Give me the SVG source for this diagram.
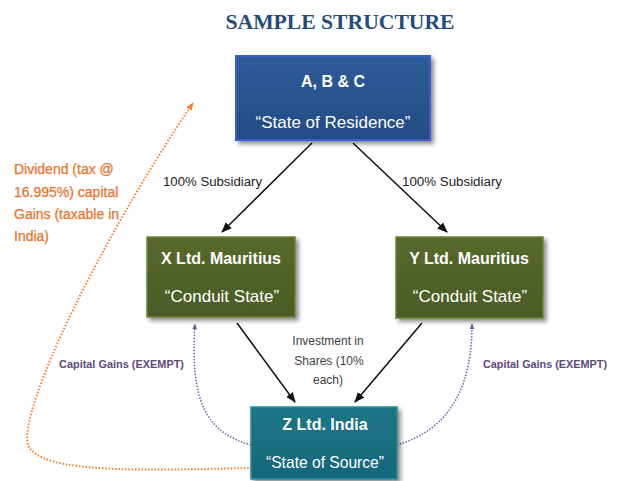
<svg xmlns="http://www.w3.org/2000/svg" width="620" height="481" viewBox="0 0 620 481">
<defs>
<style>
.title{font-family:"Liberation Serif",serif;font-weight:bold;font-size:21px;fill:#244A80}
.bt{font-family:"Liberation Sans",Arial,sans-serif;fill:#fff;text-anchor:middle}
.b1{font-weight:bold;font-size:16px}
.b2{font-size:17px}
.lbl{font-family:"Liberation Sans",Arial,sans-serif;font-size:12.5px;fill:#222}
.inv{font-family:"Liberation Sans",Arial,sans-serif;font-size:12px;fill:#404040;text-anchor:middle}
.org{font-family:"Liberation Sans",Arial,sans-serif;font-size:14px;fill:#E8742A;stroke:#E8742A;stroke-width:0.25}
.cg{font-family:"Liberation Sans",Arial,sans-serif;font-size:10.5px;font-weight:bold;fill:#60497A}
.conn{stroke:#111;stroke-width:1.5;fill:none;marker-end:url(#ah)}
.pur{stroke:#7B68A6;stroke-width:1.6;stroke-dasharray:1.5 1.5;fill:none;marker-end:url(#ap)}
.orng{stroke:#F08030;stroke-width:2;stroke-dasharray:1.5 1.8;fill:none;marker-end:url(#ao)}
</style>
<filter id="sh" x="-10%" y="-10%" width="125%" height="130%">
<feDropShadow dx="3" dy="3" stdDeviation="2" flood-color="#000" flood-opacity="0.45"/>
</filter>
<linearGradient id="gb" x1="0" y1="0" x2="0" y2="1"><stop offset="0" stop-color="#2F5C98"/><stop offset="1" stop-color="#244C84"/></linearGradient>
<linearGradient id="gg" x1="0" y1="0" x2="0" y2="1"><stop offset="0" stop-color="#56692C"/><stop offset="1" stop-color="#4A5C24"/></linearGradient>
<linearGradient id="gt" x1="0" y1="0" x2="0" y2="1"><stop offset="0" stop-color="#1F7585"/><stop offset="1" stop-color="#17677A"/></linearGradient>
<marker id="ah" viewBox="0 0 10 10" refX="9" refY="5" markerWidth="7" markerHeight="7" orient="auto"><path d="M0,1 L10,5 L0,9 Z" fill="#111"/></marker>
<marker id="ap" viewBox="0 0 10 10" refX="9" refY="5" markerWidth="6" markerHeight="6" orient="auto" markerUnits="userSpaceOnUse"><path d="M0,1 L10,5 L0,9 Z" fill="#6A5A9A"/></marker>
<marker id="ao" viewBox="0 0 10 10" refX="9" refY="5" markerWidth="8" markerHeight="8" orient="auto" markerUnits="userSpaceOnUse"><path d="M0,1 L10,5 L0,9 Z" fill="#F08030"/></marker>
</defs>
<rect width="620" height="481" fill="#fff"/>
<text class="title" x="340" y="29" text-anchor="middle" textLength="229" lengthAdjust="spacingAndGlyphs">SAMPLE STRUCTURE</text>

<g id="connectors">
<line class="conn" x1="312" y1="143" x2="222" y2="232"/>
<line class="conn" x1="353" y1="143" x2="447" y2="232"/>
<line class="conn" x1="237" y1="323" x2="295" y2="402"/>
<line class="conn" x1="422" y1="323" x2="355" y2="402"/>
<path class="pur" d="M251 445 C205 432 190 400 195 324"/>
<path class="pur" d="M397 445 C440 432 472 400 472 324"/>
<path class="orng" d="M252 468 C150 470 40 475 28 445 C18 410 100 240 193 103"/>
</g>

<g id="labels">
<text class="lbl" x="163" y="186" textLength="99" lengthAdjust="spacingAndGlyphs">100% Subsidiary</text>
<text class="lbl" x="402" y="186" textLength="100" lengthAdjust="spacingAndGlyphs">100% Subsidiary</text>
<text class="inv" x="328" y="345">Investment in</text>
<text class="inv" x="329" y="365">Shares (10%</text>
<text class="inv" x="328" y="384">each)</text>
<text class="org" x="14" y="174">Dividend (tax @</text>
<text class="org" x="14" y="197">16.995%) capital</text>
<text class="org" x="14" y="219">Gains (taxable in</text>
<text class="org" x="14" y="241">India)</text>
<text class="cg" x="59" y="368" textLength="125" lengthAdjust="spacingAndGlyphs">Capital Gains (EXEMPT)</text>
<text class="cg" x="483" y="368" textLength="124" lengthAdjust="spacingAndGlyphs">Capital Gains (EXEMPT)</text>
</g>

<g id="node-abc">
<rect x="236" y="56" width="194" height="84" fill="url(#gb)" stroke="#3B5BD6" stroke-width="2" filter="url(#sh)"/>
<text class="bt b1" x="333" y="87" font-size="18">A, B &amp; C</text>
<text class="bt b2" x="333" y="128">“State of Residence”</text>
</g>

<g id="node-x">
<rect x="147" y="237" width="148" height="80" fill="url(#gg)" stroke="#6B8236" stroke-width="1.5" filter="url(#sh)"/>
<text class="bt b1" x="221" y="264">X Ltd. Mauritius</text>
<text class="bt b2" x="222" y="302">“Conduit State”</text>
</g>

<g id="node-y">
<rect x="396" y="237" width="147" height="81" fill="url(#gg)" stroke="#6B8236" stroke-width="1.5" filter="url(#sh)"/>
<text class="bt b1" x="469" y="264">Y Ltd. Mauritius</text>
<text class="bt b2" x="470" y="302">“Conduit State”</text>
</g>

<g id="node-z">
<rect x="251" y="407" width="146" height="72" fill="url(#gt)" stroke="#2A8A9C" stroke-width="1.5" filter="url(#sh)"/>
<text class="bt b1" x="325" y="430">Z Ltd. India</text>
<text class="bt b2" x="325" y="468" textLength="118" lengthAdjust="spacingAndGlyphs">“State of Source”</text>
</g>
</svg>
